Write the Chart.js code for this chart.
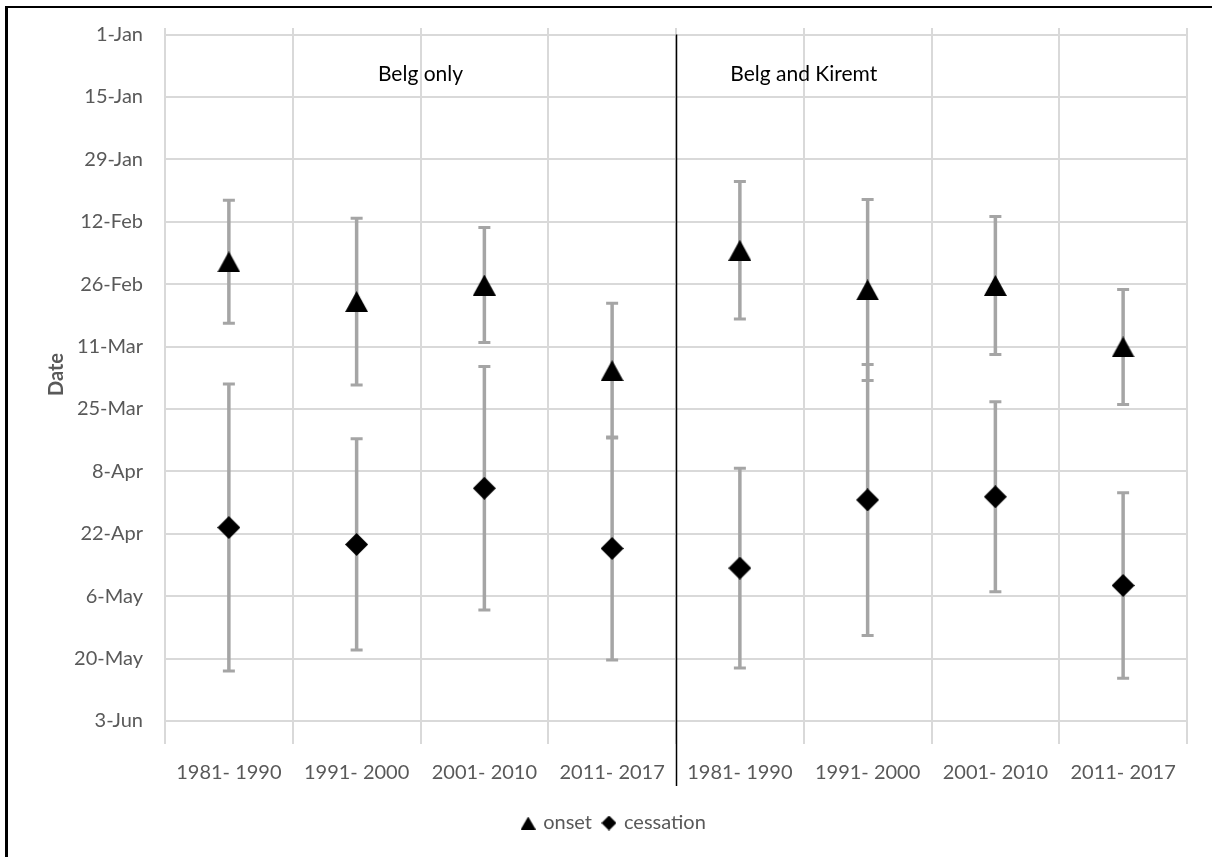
<!DOCTYPE html>
<html>
<head>
<meta charset="utf-8">
<title>Onset and cessation dates</title>
<script src="https://cdn.jsdelivr.net/npm/chart.js@4/dist/chart.umd.min.js"></script>
<style>
  html, body { margin: 0; padding: 0; background: #fff; }
  #wrap { position: relative; width: 1212px; height: 857px; }
  #frame { position: absolute; left: 5px; top: 6px; right: 0; bottom: 0;
           border-left: 3px solid #000; border-top: 2px solid #000; pointer-events: none; }
</style>
</head>
<body>
<div id="wrap">
  <canvas id="c" width="1212" height="857"></canvas>
  <div id="frame"></div>
</div>
<script>
// Periods, grouped as "Belg only" (first four) and "Belg and Kiremt" (last four)
const periods = ['1981- 1990', '1991- 2000', '2001- 2010', '2011- 2017',
                 '1981- 1990', '1991- 2000', '2001- 2010', '2011- 2017'];
const groupTitles = ['Belg only', 'Belg and Kiremt'];

// Mean dates as days after 1 January, with their spread (± days)
const onsetDays       = [51.0, 59.9, 56.2, 75.4, 48.4, 57.3, 56.3, 70.1];
const onsetSpread     = [13.8, 18.7, 12.9, 15.1, 15.4, 20.3, 15.5, 12.9];
const cessationDays   = [110.6, 114.4, 101.8, 115.3, 119.7, 104.4, 103.7, 123.6];
const cessationSpread = [32.2, 23.7, 27.3, 25.0, 22.4, 30.4, 21.3, 20.8];

// Date axis: a tick every 14 days
const dateTicks  = [0, 14, 28, 42, 56, 70, 84, 98, 112, 126, 140, 154];
const dateLabels = ['1-Jan', '15-Jan', '29-Jan', '12-Feb', '26-Feb', '11-Mar',
                    '25-Mar', '8-Apr', '22-Apr', '6-May', '20-May', '3-Jun'];

const FONT = 'Lato';
const GREY_TEXT = '#595959';
const GRID = '#d9d9d9';

// Marker shapes, drawn onto small canvases so the shape is centred on the value
function triangleMarker(w, h) {
  const c = document.createElement('canvas');
  c.width = w; c.height = h;
  const g = c.getContext('2d');
  g.fillStyle = '#000';
  g.beginPath();
  g.moveTo(w / 2, 0); g.lineTo(w, h); g.lineTo(0, h);
  g.closePath(); g.fill();
  return c;
}
function diamondMarker(w, h) {
  const c = document.createElement('canvas');
  c.width = w; c.height = h;
  const g = c.getContext('2d');
  g.fillStyle = '#000';
  g.beginPath();
  g.moveTo(w / 2, 0); g.lineTo(w, h / 2); g.lineTo(w / 2, h); g.lineTo(0, h / 2);
  g.closePath(); g.fill();
  return c;
}
const triBig = triangleMarker(23, 21);
const diaBig = diamondMarker(23, 23);
const triSmall = triangleMarker(15, 13);
const diaSmall = diamondMarker(15, 15);

// Error bars, the group divider and the group headings
const decorations = {
  id: 'decorations',
  afterLayout(chart) {
    // legend sits a little right of the page centre
    chart.legend.left += 17;
    chart.legend.right += 17;
  },
  beforeDatasetsDraw(chart) {
    const { ctx, scales: { x, y } } = chart;
    ctx.save();

    // divider between the two groups
    const xd = Math.round(x.getPixelForValue(3.5)) + 0.5;
    ctx.strokeStyle = '#000';
    ctx.lineWidth = 1.5;
    ctx.beginPath();
    ctx.moveTo(xd, y.getPixelForValue(0));
    ctx.lineTo(xd, y.bottom + 65);
    ctx.stroke();

    // group headings
    ctx.fillStyle = '#000';
    ctx.font = `21px ${FONT}`;
    ctx.textAlign = 'center';
    ctx.textBaseline = 'middle';
    ctx.fillText(groupTitles[0], x.getPixelForValue(1.5), y.getPixelForValue(8.9));
    ctx.fillText(groupTitles[1], x.getPixelForValue(4.5), y.getPixelForValue(8.9));

    // error bars
    const bars = [[onsetDays, onsetSpread], [cessationDays, cessationSpread]];
    ctx.strokeStyle = '#a5a5a5';
    ctx.lineCap = 'butt';
    bars.forEach(([vals, spread]) => {
      vals.forEach((v, i) => {
        const px = x.getPixelForValue(i);
        const yTop = y.getPixelForValue(v - spread[i]);
        const yBot = y.getPixelForValue(v + spread[i]);
        ctx.lineWidth = 3.5;
        ctx.beginPath();
        ctx.moveTo(px, yTop); ctx.lineTo(px, yBot);
        ctx.stroke();
        ctx.lineWidth = 3;
        ctx.beginPath();
        ctx.moveTo(px - 6, yTop); ctx.lineTo(px + 6, yTop);
        ctx.moveTo(px - 6, yBot); ctx.lineTo(px + 6, yBot);
        ctx.stroke();
      });
    });
    ctx.restore();
  }
};

new Chart(document.getElementById('c'), {
  type: 'line',
  data: {
    labels: periods,
    datasets: [
      { label: 'onset', data: onsetDays, showLine: false,
        pointStyle: triBig, pointRadius: 12, pointHoverRadius: 12,
        backgroundColor: '#000', borderColor: '#000' },
      { label: 'cessation', data: cessationDays, showLine: false,
        pointStyle: diaBig, pointRadius: 12, pointHoverRadius: 12,
        backgroundColor: '#000', borderColor: '#000' }
    ]
  },
  options: {
    responsive: false,
    animation: false,
    layout: { padding: { left: 8, right: 25, top: 28, bottom: 14 } },
    plugins: {
      tooltip: { enabled: false },
      legend: {
        position: 'bottom',
        labels: {
          usePointStyle: true,
          boxWidth: 10,
          padding: 12,
          color: GREY_TEXT,
          font: { family: FONT, size: 20 },
          generateLabels: () => [
            { text: 'onset', pointStyle: triSmall, fillStyle: '#000', strokeStyle: '#000',
              lineWidth: 0, hidden: false, datasetIndex: 0, fontColor: GREY_TEXT },
            { text: 'cessation', pointStyle: diaSmall, fillStyle: '#000', strokeStyle: '#000',
              lineWidth: 0, hidden: false, datasetIndex: 1, fontColor: GREY_TEXT }
          ]
        }
      }
    },
    scales: {
      x: {
        type: 'category',
        offset: true,
        grid: { offset: true, color: GRID, lineWidth: 2, tickLength: 23, drawTicks: true },
        border: { display: false },
        ticks: { color: GREY_TEXT, font: { family: FONT, size: 20 }, padding: 17,
                 maxRotation: 0, autoSkip: false },
        afterFit: s => { s.height = 80; s.paddingLeft = 0; s.paddingRight = 0; }
      },
      y: {
        reverse: true,
        min: -1.46,
        max: 154,
        afterBuildTicks: s => { s.ticks = dateTicks.map(v => ({ value: v })); },
        grid: { color: GRID, lineWidth: 2, drawTicks: false },
        border: { display: false },
        ticks: {
          color: GREY_TEXT,
          font: { family: FONT, size: 20 },
          padding: 22,
          callback: (v, i) => dateLabels[i]
        },
        title: {
          display: true,
          text: 'Date',
          color: GREY_TEXT,
          font: { family: FONT, size: 20, weight: 'bold' },
          padding: { top: 37, bottom: 0 }
        },
        afterFit: s => { s.width = 157; s.paddingTop = 0; s.paddingBottom = 0; }
      }
    }
  },
  plugins: [decorations]
});
</script>
</body>
</html>
